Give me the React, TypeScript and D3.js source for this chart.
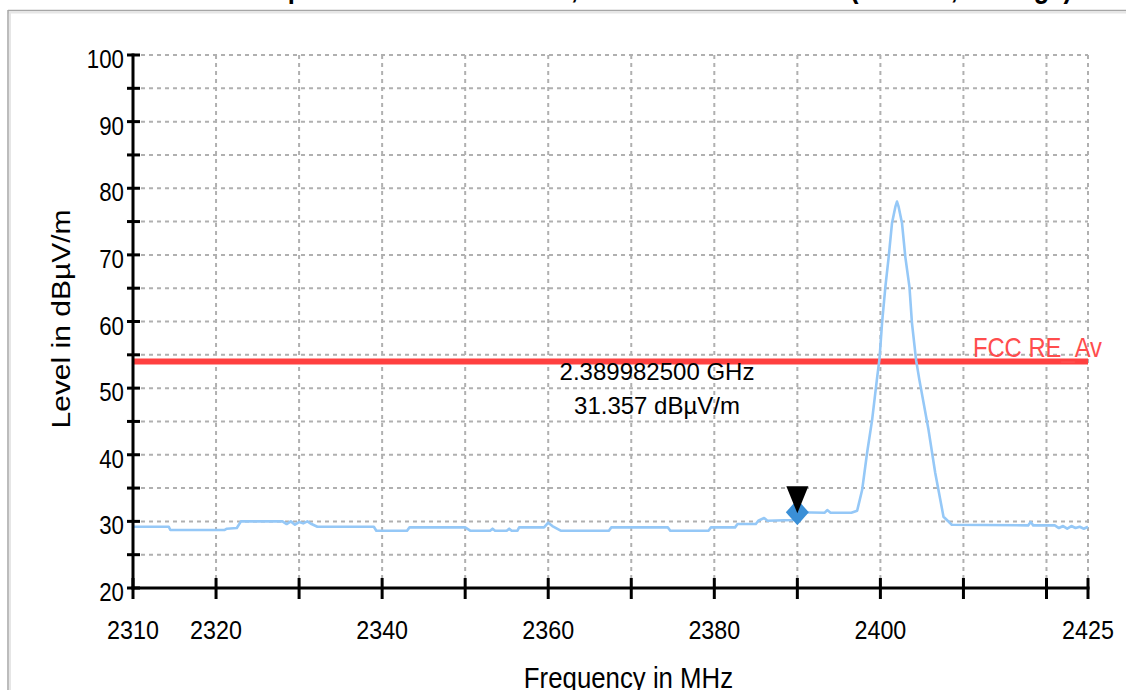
import React from "react";
import * as d3 from "d3";

// ---- Data ----
const FREQS = [
  2310, 2314.3, 2314.5, 2321.0, 2321.3, 2322.5, 2323.0, 2328.0, 2328.5, 2329.0, 2329.5, 2330.0, 2330.5, 2331.0, 2331.5,
  2332.2, 2339.0, 2339.3, 2343.0, 2343.3, 2350.0, 2350.6, 2353.0, 2353.3, 2353.6, 2355.0, 2355.3, 2355.6, 2356.3,
  2356.5, 2359.5, 2360.0, 2360.5, 2361.5, 2367.3, 2367.6, 2374.4, 2374.7, 2379.3, 2379.6, 2382.5, 2382.8, 2385.0,
  2385.3, 2386.0, 2386.4, 2389.5, 2390.0, 2393.3, 2393.6, 2394.0, 2396.5, 2397.2, 2397.8, 2398.4, 2399.0, 2399.6,
  2399.9, 2400.2, 2400.6, 2401.0, 2401.4, 2401.8, 2402.0, 2402.2, 2402.6, 2403.0, 2403.5, 2403.8, 2404.3, 2404.7,
  2405.8, 2406.6, 2407.6, 2408.6, 2417.8, 2418.1, 2418.4, 2421.0, 2421.5, 2422.0, 2422.5, 2423.0, 2423.5, 2424.0,
  2424.5, 2425,
];
const LEVELS = [
  29.2, 29.2, 28.7, 28.7, 28.9, 29.0, 30.0, 30.0, 29.6, 30.0, 29.5, 29.9, 29.7, 30.0, 29.6,
  29.2, 29.2, 28.6, 28.6, 29.1, 29.1, 28.6, 28.6, 28.9, 28.6, 28.6, 28.9, 28.6, 28.6,
  29.1, 29.1, 29.8, 29.3, 28.6, 28.6, 29.1, 29.1, 28.6, 28.6, 29.1, 29.1, 29.6, 29.6,
  30.1, 30.5, 30.1, 30.2, 31.36, 31.3, 31.7, 31.3, 31.3, 31.6, 34.7, 40.3, 45.2, 51.5,
  54.5, 59.8, 65.2, 69.7, 74.8, 77.2, 78.0, 77.2, 74.8, 69.7, 65.2, 59.8, 54.2, 51.2,
  43.7, 37.3, 30.7, 29.5, 29.4, 29.9, 29.4, 29.4, 29.0, 29.3, 28.9, 29.3, 29.0, 29.2,
  28.9, 29.2,
];
const LIMIT_LEVEL = 54;
const LIMIT_NAME = "FCC RE_Av";
const MARKER_FREQ = 2390.0;
const MARKER_LEVEL = 31.357;
const MARKER_TEXT = ["2.389982500 GHz", "31.357 dBµV/m"];

const X_DOMAIN = [2310, 2425];
const Y_DOMAIN = [20, 100];
const X_TICKS = [2310, 2320, 2330, 2340, 2350, 2360, 2370, 2380, 2390, 2400, 2410, 2420, 2425];
const X_GRID = [2320, 2330, 2340, 2350, 2360, 2370, 2380, 2390, 2400, 2410, 2420, 2425];
const X_LABELS = [2310, 2320, 2340, 2360, 2380, 2400, 2425];
const Y_TICKS = [20, 25, 30, 35, 40, 45, 50, 55, 60, 65, 70, 75, 80, 85, 90, 95, 100];
const Y_GRID = [25, 30, 35, 40, 45, 50, 55, 60, 65, 70, 75, 80, 85, 90, 95, 100];
const Y_LABELS = [20, 30, 40, 50, 60, 70, 80, 90, 100];

const TITLE = "Restricted Band Spurious Emissions Plot, 802.11b Low Channel (Chain 0, Average)";
const X_TITLE = "Frequency in MHz";
const Y_TITLE = "Level in dBµV/m";

const FONT = "'Liberation Sans', Arial, Helvetica, sans-serif";

export default function App() {
  const W = 1126;
  const H = 690;
  const left = 133, right = 1088, top = 55, bottom = 588;

  const x = d3.scaleLinear().domain(X_DOMAIN).range([left, right]);
  const y = d3.scaleLinear().domain(Y_DOMAIN).range([bottom, top]);

  const pts: [number, number][] = FREQS.map((f, i) => [f, LEVELS[i]]);
  const line = d3
    .line<[number, number]>()
    .x((d) => x(d[0]))
    .y((d) => y(d[1]))
    .curve(d3.curveLinear);

  const mx = x(MARKER_FREQ);
  const my = y(MARKER_LEVEL);

  const gridColor = "#b0b0b0";

  return (
    <div style={{ position: "absolute", left: 0, top: 0, width: W, height: H, overflow: "hidden", background: "#fff" }}>
      <svg width={W} height={H} style={{ display: "block" }} fontFamily={FONT}>
        <rect x={0} y={0} width={W} height={H} fill="#ffffff" />
        {/* title, mostly cut off at the top as in the reference */}
        <text
          transform={`translate(1072,-2) scale(0.85,1)`}
          textAnchor="end"
          fontSize={30}
          fontWeight="bold"
          fill="#000"
        >
          {TITLE}
        </text>
        {/* frame */}
        <line x1={8} x2={W} y1={10.5} y2={10.5} stroke="#a6a6a6" strokeWidth={1.5} />
        <line x1={8} x2={W} y1={12.5} y2={12.5} stroke="#e6e6e6" strokeWidth={2} />
        <line x1={8} x2={8} y1={10} y2={H} stroke="#a6a6a6" strokeWidth={1.5} />
        <line x1={10} x2={10} y1={12} y2={H} stroke="#e6e6e6" strokeWidth={2} />

        {/* grid */}
        {Y_GRID.map((v) => (
          <line key={"gy" + v} x1={left} x2={right} y1={y(v)} y2={y(v)} stroke={gridColor} strokeWidth={2} strokeDasharray="4,4" />
        ))}
        {X_GRID.map((v) => (
          <line key={"gx" + v} x1={x(v)} x2={x(v)} y1={top} y2={bottom} stroke={gridColor} strokeWidth={2} strokeDasharray="4,4" />
        ))}

        {/* limit line */}
        <line x1={left} x2={right} y1={y(LIMIT_LEVEL)} y2={y(LIMIT_LEVEL)} stroke="#ff4040" strokeWidth={6} />
        <text transform={`translate(1102,357) scale(0.85,1)`} textAnchor="end" fontSize={28} fill="#ff4d4d">
          {LIMIT_NAME}
        </text>

        {/* trace */}
        <path d={line(pts) || ""} fill="none" stroke="#95c8f7" strokeWidth={2.6} strokeLinejoin="round" />

        {/* axes */}
        <line x1={left} x2={left} y1={top - 1.5} y2={bottom + 1.5} stroke="#000" strokeWidth={3} />
        <line x1={left - 1.5} x2={right + 1.5} y1={bottom} y2={bottom} stroke="#000" strokeWidth={3} />
        {Y_TICKS.map((v) => (
          <line key={"ty" + v} x1={left - 6} x2={left + 7} y1={y(v)} y2={y(v)} stroke="#000" strokeWidth={3} />
        ))}
        {X_TICKS.map((v) => (
          <line key={"tx" + v} x1={x(v)} x2={x(v)} y1={bottom - 10} y2={bottom + 11} stroke="#000" strokeWidth={3} />
        ))}
        {Y_LABELS.map((v) => (
          <text key={"ly" + v} transform={`translate(124,${y(v) + 13}) scale(0.84,1)`} textAnchor="end" fontSize={26.5} fill="#000">
            {v}
          </text>
        ))}
        {X_LABELS.map((v) => (
          <text key={"lx" + v} transform={`translate(${x(v)},639) scale(0.88,1)`} textAnchor="middle" fontSize={26.5} fill="#000">
            {v}
          </text>
        ))}

        {/* axis titles */}
        <text transform={`translate(628.5,687.5) scale(0.86,1)`} textAnchor="middle" fontSize={30} fill="#000">
          {X_TITLE}
        </text>
        <text transform={`translate(70,319) rotate(-90) scale(1,0.85)`} textAnchor="middle" fontSize={30} fill="#000">
          {Y_TITLE}
        </text>

        {/* marker */}
        <path d={`M${mx},${my - 13} L${mx + 11.5},${my} L${mx},${my + 13} L${mx - 11.5},${my} Z`} fill="#3a8fd6" />
        <path d={`M${mx - 11},${my - 26} L${mx + 11},${my - 26} L${mx},${my + 1} Z`} fill="#000" />
        <text x={657} y={380} textAnchor="middle" fontSize={24} fill="#000">
          {MARKER_TEXT[0]}
        </text>
        <text x={657} y={414} textAnchor="middle" fontSize={24} fill="#000">
          {MARKER_TEXT[1]}
        </text>
      </svg>
    </div>
  );
}
